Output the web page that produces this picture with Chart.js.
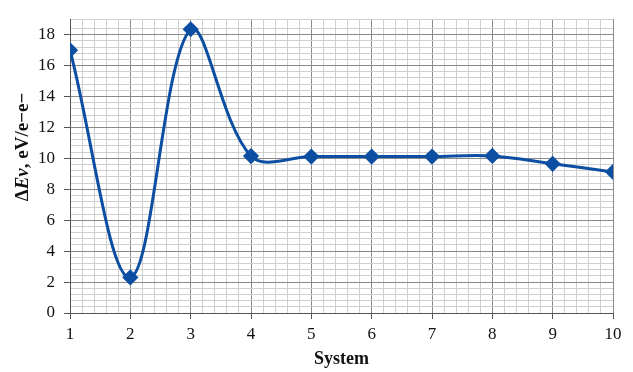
<!DOCTYPE html>
<html>
<head>
<meta charset="utf-8">
<script src="https://cdn.jsdelivr.net/npm/chart.js@4/dist/chart.umd.min.js"></script>
<style>
  html, body { margin: 0; padding: 0; background: #fff; }
  #wrap { width: 633px; height: 372px; }
</style>
</head>
<body>
<div id="wrap"><canvas id="chart" width="633" height="372"></canvas></div>
<script>
// data
const systems = [1, 2, 3, 4, 5, 6, 7, 8, 9, 10];
const deltaEv = [17.0, 2.3, 18.35, 10.15, 10.12, 10.12, 10.12, 10.16, 9.65, 9.12];

// y axis title pieces (the "Ev" part is italic)
const yTitleParts = [
  { text: "Δ", italic: false },
  { text: "Ev", italic: true },
  { text: ", eV/e−e−", italic: false },
];

const isInt = (v) => Math.abs(v - Math.round(v)) < 1e-6;
const FONT = "'Liberation Serif', 'DejaVu Serif', serif";

const points = systems.map((s, i) => ({ x: s, y: deltaEv[i] }));

// draws the rotated y title with mixed italic
const yTitlePlugin = {
  id: "yTitle",
  afterDraw(chart) {
    const ctx = chart.ctx;
    const fontOf = (p) => (p.italic ? "italic " : "") + "bold 19px " + FONT;
    let total = 0;
    yTitleParts.forEach((p) => {
      ctx.font = fontOf(p);
      total += ctx.measureText(p.text).width;
    });
    ctx.save();
    ctx.translate(23, 147);
    ctx.rotate(-Math.PI / 2);
    ctx.fillStyle = "#111";
    ctx.textBaseline = "middle";
    ctx.textAlign = "left";
    let x = -total / 2;
    yTitleParts.forEach((p) => {
      ctx.font = fontOf(p);
      ctx.fillText(p.text, x, 0);
      x += ctx.measureText(p.text).width;
    });
    ctx.restore();
  },
};

new Chart(document.getElementById("chart"), {
  type: "line",
  data: {
    datasets: [
      {
        data: points,
        borderColor: "#0b4ea2",
        backgroundColor: "#0b4ea2",
        borderWidth: 3,
        tension: 0.36,
        pointStyle: "rectRot",
        pointRadius: 6,
        pointHoverRadius: 6,
        fill: false,
      },
    ],
  },
  options: {
    responsive: false,
    animation: false,
    layout: { padding: { top: 10, right: 20, left: 0, bottom: 2 } },
    plugins: { legend: { display: false }, tooltip: { enabled: false } },
    scales: {
      x: {
        type: "linear",
        min: 1,
        max: 10,
        afterFit: (scale) => {
          scale.height = 57;
        },
        ticks: {
          stepSize: 0.2,
          autoSkip: false,
          maxRotation: 0,
          padding: 5,
          color: "#111",
          font: { family: FONT, size: 17 },
          callback: (v) => (isInt(v) ? Math.round(v) : ""),
        },
        grid: {
          color: (c) => (isInt(c.tick.value) ? "#8a8a8a" : "#cfcfcf"),
          tickColor: (c) => (isInt(c.tick.value) ? "#555" : "rgba(0,0,0,0)"),
          tickLength: 6,
          lineWidth: 1,
        },
        border: { color: "#555", width: 1 },
        title: {
          display: true,
          text: "System",
          color: "#111",
          font: { family: FONT, size: 18, weight: "bold" },
          padding: { top: 2, bottom: 0 },
        },
      },
      y: {
        min: 0,
        max: 19,
        afterFit: (scale) => {
          scale.width = 70;
        },
        ticks: {
          stepSize: 0.4,
          autoSkip: false,
          padding: 9,
          color: "#111",
          font: { family: FONT, size: 17 },
          callback: (v) => {
            if (!isInt(v)) return "";
            const r = Math.round(v);
            return r % 2 === 0 && r <= 18 ? r : "";
          },
        },
        grid: {
          color: (c) => {
            const v = c.tick.value;
            return isInt(v) && Math.round(v) % 2 === 0 ? "#8a8a8a" : "#cfcfcf";
          },
          tickColor: (c) => {
            const v = c.tick.value;
            return isInt(v) && Math.round(v) % 2 === 0 && v <= 18 ? "#555" : "rgba(0,0,0,0)";
          },
          tickLength: 6,
          lineWidth: 1,
        },
        border: { color: "#555", width: 1 },
        title: { display: false },
      },
    },
  },
  plugins: [yTitlePlugin],
});
</script>
</body>
</html>
